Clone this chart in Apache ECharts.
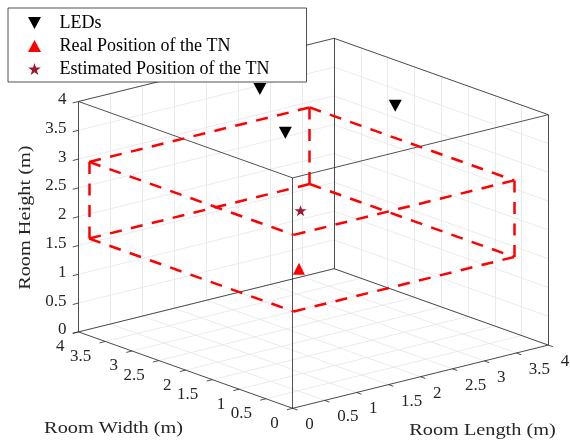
<!DOCTYPE html>
<html>
<head>
<meta charset="utf-8">
<title>Room positioning</title>
<script src="https://cdn.jsdelivr.net/npm/echarts@6/dist/echarts.min.js"></script>
<style>
  html, body { margin: 0; padding: 0; background: #fff; }
  #chart { width: 570px; height: 441px; }
</style>
</head>
<body>
<div id="chart"></div>
<script>
// Room axes, metres
const roomTicks = [0, 0.5, 1, 1.5, 2, 2.5, 3, 3.5, 4];
const roomTickLabels = ['0', '0.5', '1', '1.5', '2', '2.5', '3', '3.5', '4'];
const roomSize = 4;

// Points as [length, width, height]
const ledPositions = [[2, 3, 4], [1.1, 1.45, 4], [2.82, 1.45, 4]];
const tnReal = [[2, 2.27, 1.12]];
const tnEstimated = [[2, 2.24, 2.14]];

// Bounds of the dashed search region
const regionLength = [0.1, 3.55];
const regionWidth = [0.1, 3.92];
const regionHeight = [1.62, 2.95];

const FONT = "'Liberation Serif', 'DejaVu Serif', serif";
const FONT_SIZE = 17;
const TITLE_SIZE = 17.5;
const TITLE_STRETCH = 1.16;
const AXIS_COLOR = '#262626';
const GRID_COLOR = '#e3e3e3';

// Orthographic view: where one metre along length / width lands on screen,
// measured in metres of height (height maps straight up).
const VIEW = { length: [1.1094, 0.2743], width: [-0.9297, 0.3316] };
const PX_PER_M = 57.6;
const ORIGIN_PX = [292.7, 408.3];
const W = 570, H = 441;

function project(p) {
  return [
    p[0] * VIEW.length[0] + p[1] * VIEW.width[0],
    p[0] * VIEW.length[1] + p[1] * VIEW.width[1] + p[2]
  ];
}
function seg(a, b) { return { coords: [project(a), project(b)] }; }

const S = roomSize;

// grid on the floor and on the two back walls
const gridSegs = [];
roomTicks.forEach(t => {
  gridSegs.push(seg([t, 0, 0], [t, S, 0]), seg([0, t, 0], [S, t, 0]));
  gridSegs.push(seg([t, S, 0], [t, S, S]), seg([0, S, t], [S, S, t]));
  gridSegs.push(seg([S, t, 0], [S, t, S]), seg([S, 0, t], [S, S, t]));
});

// outline of the room box
const boxSegs = [];
[0, S].forEach(z => {
  boxSegs.push(seg([0, 0, z], [S, 0, z]), seg([S, 0, z], [S, S, z]),
               seg([S, S, z], [0, S, z]), seg([0, S, z], [0, 0, z]));
});
[[0, 0], [S, 0], [S, S], [0, S]].forEach(c => boxSegs.push(seg([c[0], c[1], 0], [c[0], c[1], S])));

// tick marks
const TICK = 0.09;
const tickSegs = [];
roomTicks.forEach(t => {
  tickSegs.push(seg([t, 0, 0], [t, -TICK, 0]));   // length axis
  tickSegs.push(seg([0, t, 0], [-TICK, t, 0]));   // width axis
  tickSegs.push(seg([0, S, t], [-TICK, S, t]));   // height axis
});

// dashed region (front vertical edge left out)
const rc = (i, j, k) => [regionLength[i], regionWidth[j], regionHeight[k]];
const regionSegs = [];
[1, 0].forEach(k => {
  regionSegs.push(seg(rc(0, 1, k), rc(1, 1, k)), seg(rc(1, 1, k), rc(1, 0, k)),
                  seg(rc(0, 0, k), rc(1, 0, k)), seg(rc(0, 1, k), rc(0, 0, k)));
});
[[0, 1], [1, 1], [1, 0]].forEach(([i, j]) => regionSegs.push(seg(rc(i, j, 1), rc(i, j, 0))));

// tick labels and axis titles
const labelItems = [];
roomTicks.forEach((t, i) => {
  labelItems.push({ pos: [t, 0, 0], text: roomTickLabels[i], dx: 12.5, dy: 16.5, align: 'left' });
  labelItems.push({ pos: [0, t, 0], text: roomTickLabels[i], dx: -14, dy: 15, align: 'right' });
  labelItems.push({ pos: [0, S, t], text: roomTickLabels[i], dx: -12, dy: -2, align: 'right' });
});
labelItems.push({ pos: [S / 2, 0, 0], text: 'Room Length (m)', dx: 62, dy: 54, align: 'center', title: true });
labelItems.push({ pos: [0, S / 2, 0], text: 'Room Width (m)', dx: -72, dy: 58, align: 'center', title: true });
labelItems.push({ pos: [0, S, S / 2], text: 'Room Height (m)', dx: -53, dy: 1, align: 'center', title: true, rot: Math.PI / 2 });

// marker shapes
const TRI_DOWN = 'path://M0,0L13,0L6.5,12Z';
const TRI_UP = 'path://M6.5,0L13,12L0,12Z';
function starPath() {
  const pts = [];
  for (let k = 0; k < 10; k++) {
    const a = -Math.PI / 2 + k * Math.PI / 5;
    const r = k % 2 ? 0.382 : 1;
    pts.push((r * Math.cos(a)).toFixed(3) + ',' + (r * Math.sin(a)).toFixed(3));
  }
  return 'path://M' + pts.join('L') + 'Z';
}
const STAR = starPath();

function lineSeries(data, style, z) {
  return {
    type: 'lines', coordinateSystem: 'cartesian2d', silent: true, z: z,
    polyline: false, data: data,
    lineStyle: Object.assign({ opacity: 1 }, style)
  };
}

const chart = echarts.init(document.getElementById('chart'), null, { renderer: 'canvas' });
chart.setOption({
  animation: false,
  backgroundColor: '#fff',
  grid: { left: 0, right: 0, top: 0, bottom: 0 },
  xAxis: { type: 'value', show: false,
           min: -ORIGIN_PX[0] / PX_PER_M, max: (W - ORIGIN_PX[0]) / PX_PER_M },
  yAxis: { type: 'value', show: false,
           min: -(H - ORIGIN_PX[1]) / PX_PER_M, max: ORIGIN_PX[1] / PX_PER_M },
  legend: {
    left: 8, top: 8, orient: 'vertical',
    padding: [6, 7, 4, 20], itemGap: 5, itemWidth: 40, itemHeight: 12,
    symbolKeepAspect: true, selectedMode: false,
    backgroundColor: '#fff', borderColor: AXIS_COLOR, borderWidth: 0.8, z: 10,
    textStyle: { fontFamily: FONT, fontSize: 18, lineHeight: 18, color: '#000', width: 240 },
    data: [
      { name: 'LEDs', icon: TRI_DOWN },
      { name: 'Real Position of the TN', icon: TRI_UP },
      { name: 'Estimated Position of the TN', icon: STAR }
    ]
  },
  series: [
    lineSeries(gridSegs, { color: GRID_COLOR, width: 0.7 }, 1),
    lineSeries(boxSegs, { color: AXIS_COLOR, width: 0.8 }, 2),
    lineSeries(tickSegs, { color: AXIS_COLOR, width: 0.8 }, 2),
    lineSeries(regionSegs, { color: '#ff0000', width: 2.5, type: [12, 9.5], cap: 'butt' }, 3),
    {
      type: 'custom', coordinateSystem: 'cartesian2d', silent: true, z: 3, clip: false,
      data: labelItems.map(it => project(it.pos)),
      renderItem: function (params, api) {
        const it = labelItems[params.dataIndex];
        const p = api.coord([api.value(0), api.value(1)]);
        return {
          type: 'text', x: p[0] + it.dx, y: p[1] + it.dy, rotation: it.rot || 0,
          scaleX: it.title ? TITLE_STRETCH : 1,
          style: { text: it.text, align: it.align, verticalAlign: 'middle',
                   fill: AXIS_COLOR, fontFamily: FONT,
                   fontSize: it.title ? TITLE_SIZE : FONT_SIZE }
        };
      }
    },
    {
      name: 'LEDs', type: 'scatter', z: 5, symbol: TRI_DOWN, symbolSize: [13, 12],
      itemStyle: { color: '#000', opacity: 1 }, data: ledPositions.map(project)
    },
    {
      name: 'Real Position of the TN', type: 'scatter', z: 5, symbol: TRI_UP, symbolSize: [12, 12],
      itemStyle: { color: '#ff0000', opacity: 1 }, data: tnReal.map(project)
    },
    {
      name: 'Estimated Position of the TN', type: 'scatter', z: 5, symbol: STAR, symbolSize: [12, 11],
      itemStyle: { color: '#a2142f', opacity: 1 }, data: tnEstimated.map(project)
    }
  ]
});
</script>
</body>
</html>
